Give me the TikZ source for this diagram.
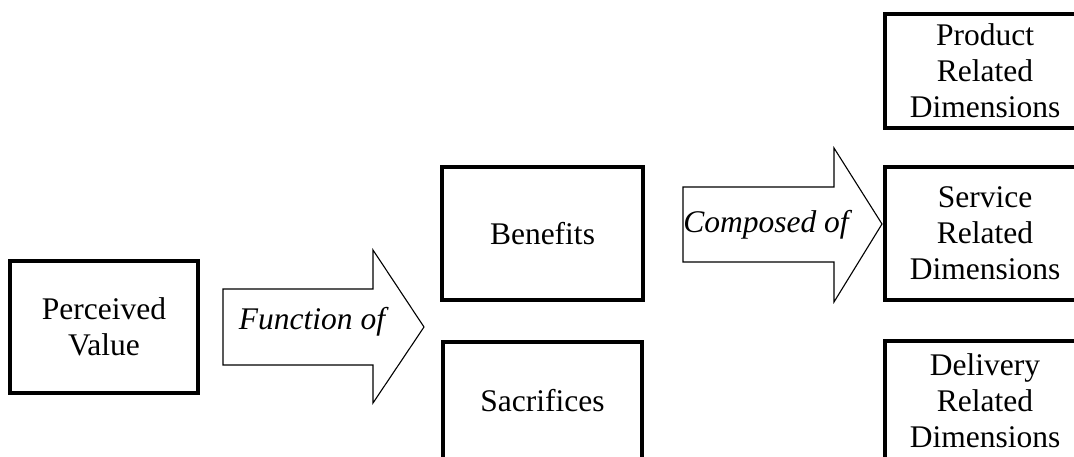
\documentclass[tikz,border=0pt]{standalone}
\usepackage{fontspec}
\setmainfont{Liberation Serif}
\usetikzlibrary{positioning}

\tikzset{
  dimbox/.style={draw, line width=3.5pt, align=center, inner sep=0pt,
    font=\fontsize{31.5}{36}\selectfont},
  blockarrow/.style={draw, line width=1.1pt, fill=white, line join=miter},
  arrowtext/.style={font=\fontsize{31.5}{36}\selectfont\itshape, inner sep=0pt}
}

\begin{document}
\begin{tikzpicture}[x=1pt,y=-1pt]
  % Frame of the picture
  \useasboundingbox (0,0) rectangle (1074,457);
  \clip (0,0) rectangle (1074,457);

  % Left box
  \node[dimbox, minimum width=188pt, minimum height=132pt] (pv) at (104,327) {Perceived\\Value};

  % Middle boxes
  \node[dimbox, minimum width=201pt, minimum height=133pt] (ben) at (542.5,233.5) {Benefits};
  \node[dimbox, minimum width=199pt, minimum height=118pt] (sac) at (542.5,401) {Sacrifices};

  % Right boxes
  \node[dimbox, minimum width=200pt, minimum height=114pt] (prod) at (985,71) {Product\\Related\\Dimensions};
  \node[dimbox, minimum width=200pt, minimum height=133pt] (serv) at (985,233.5) {Service\\Related\\Dimensions};
  \node[dimbox, minimum width=200pt, minimum height=119pt] (deliv) at (985,400.5) {Delivery\\Related\\Dimensions};

  % Block arrow from value to benefits and sacrifices
  \draw[blockarrow] (223,289) -- (373,289) -- (373,250) -- (424,327)
    -- (373,403) -- (373,365) -- (223,365) -- cycle;
  \node[arrowtext] (fn) at (312,322) {Function of};

  % Block arrow from benefits to the dimensions
  \draw[blockarrow] (683,187) -- (834,187) -- (834,148) -- (882,224)
    -- (834,302) -- (834,262) -- (683,262) -- cycle;
  \node[arrowtext] (comp) at (766,225) {Composed of};
\end{tikzpicture}
\end{document}
